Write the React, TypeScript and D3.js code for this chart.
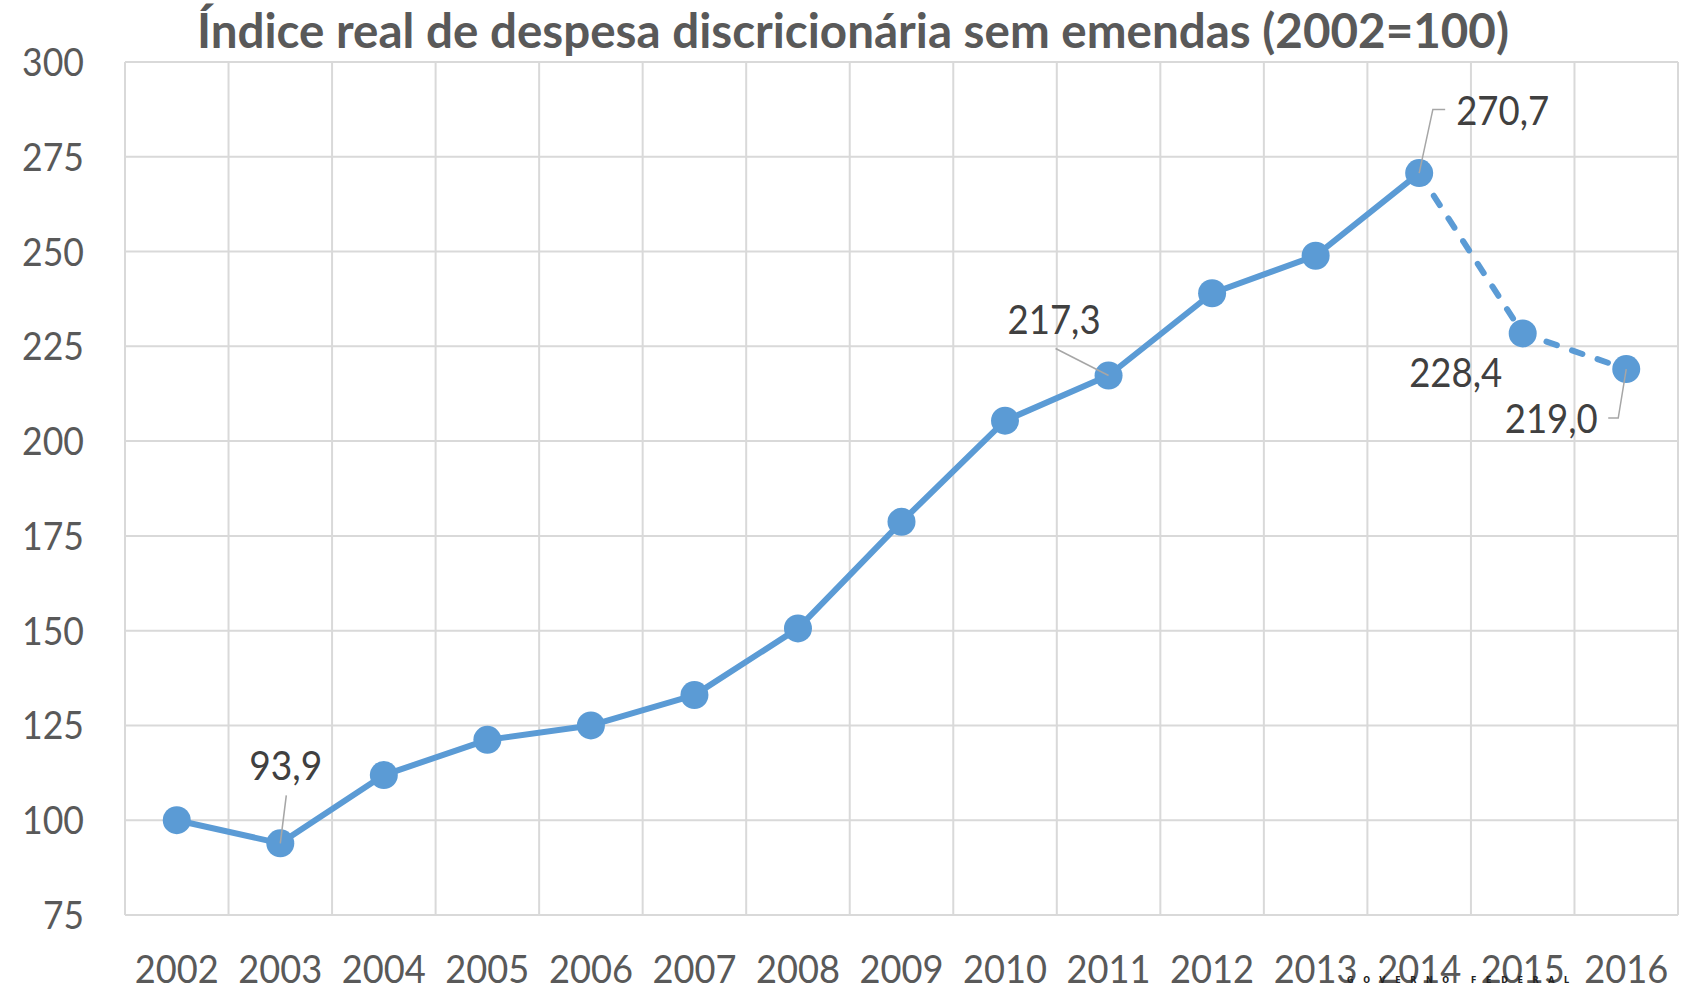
import React from "react";
import * as d3 from "d3";

const years = ["2002","2003","2004","2005","2006","2007","2008","2009","2010","2011","2012","2013","2014","2015","2016"];
const values = [100, 93.9, 111.9, 121.2, 125.0, 133.0, 150.6, 178.7, 205.4, 217.3, 239.0, 248.9, 270.7, 228.4, 219.0];
const yTicks = [75, 100, 125, 150, 175, 200, 225, 250, 275, 300];
const labeledIdx = [1, 9, 12, 13, 14];
const solidUntil = 12; // index where dashed part starts
const title = "Índice real de despesa discricionária sem emendas (2002=100)";

const W = 1688, H = 990;
const M = { left: 125, right: 1678, top: 62, bottom: 915 };

const fmt = (v: number) => d3.format(".1f")(v).replace(".", ",");

// label placements relative to the point (dx, dy baseline) and leader path (relative)
const labelStyle: Record<number, { dx: number; dy: number; anchor: string; leader?: [number, number][] }> = {
  1: { dx: 5.5, dy: -63, anchor: "middle", leader: [[6, -48], [0, 0]] },
  9: { dx: -54.5, dy: -42, anchor: "middle", leader: [[-53, -27], [0, 0]] },
  12: { dx: 83.5, dy: -48, anchor: "middle", leader: [[0, 0], [13.7, -63.7], [26, -63.7]] },
  13: { dx: -67, dy: 54, anchor: "middle" },
  14: { dx: -75, dy: 64, anchor: "middle", leader: [[0, 0], [-8, 49], [-18, 49]] },
};

export default function App() {
  const x = d3.scaleBand<string>().domain(years).range([M.left, M.right]).padding(0);
  const y = d3.scaleLinear().domain([75, 300]).range([M.bottom, M.top]);
  const cx = (i: number) => (x(years[i]) as number) + x.bandwidth() / 2;
  const cy = (i: number) => y(values[i]);

  const pts = values.map((v, i) => [cx(i), y(v)] as [number, number]);
  const gen = d3.line<[number, number]>().x(d => d[0]).y(d => d[1]);
  const solid = gen(pts.slice(0, solidUntil + 1)) || "";
  const dashed = gen(pts.slice(solidUntil)) || "";

  const font = "Lato, 'Open Sans', sans-serif";
  const gridColor = "#D9D9D9";
  const blue = "#5B9BD5";

  return (
    <svg width={W} height={H} style={{ position: "absolute", left: 0, top: 0, background: "#fff" }}>
      <rect x={0} y={0} width={W} height={H} fill="#fff" />
      {/* horizontal gridlines */}
      {yTicks.map(t => (
        <line key={"h" + t} x1={M.left} x2={M.right} y1={y(t)} y2={y(t)} stroke={gridColor} strokeWidth={2} />
      ))}
      {/* vertical gridlines at band edges */}
      {years.map((yr) => (
        <line key={"v" + yr} x1={x(yr) as number} x2={x(yr) as number} y1={M.top} y2={M.bottom} stroke={gridColor} strokeWidth={2} />
      ))}
      <line x1={M.right} x2={M.right} y1={M.top} y2={M.bottom} stroke={gridColor} strokeWidth={2} />

      {/* y labels */}
      {yTicks.map(t => (
        <text key={"yl" + t} x={84} y={y(t) + 14} textAnchor="end" fontFamily={font} fontSize={39} fill="#595959" textLength={t >= 100 ? 62 : 41} lengthAdjust="spacingAndGlyphs">{t}</text>
      ))}
      {/* x labels */}
      {years.map((yr, i) => (
        <text key={"xl" + yr} x={cx(i)} y={983} textAnchor="middle" fontFamily={font} fontSize={39} fill="#595959" textLength={84} lengthAdjust="spacingAndGlyphs">{yr}</text>
      ))}

      {/* title */}
      <text x={853} y={48} textAnchor="middle" fontFamily={font} fontWeight={700} fontSize={47} fill="#595959" textLength={1312} lengthAdjust="spacingAndGlyphs">{title}</text>

      {/* line */}
      <path d={solid} fill="none" stroke={blue} strokeWidth={6} strokeLinejoin="round" />
      <path d={dashed} fill="none" stroke={blue} strokeWidth={6} strokeDasharray="11 16" strokeLinecap="round" />

      {/* markers */}
      {values.map((v, i) => (
        <circle key={"c" + i} cx={cx(i)} cy={y(v)} r={14} fill={blue} />
      ))}
      {/* leaders */}
      {labeledIdx.map(i => {
        const s = labelStyle[i];
        if (!s.leader) return null;
        const d = gen(s.leader.map(p => [cx(i) + p[0], cy(i) + p[1]] as [number, number])) || "";
        return <path key={"ld" + i} d={d} fill="none" stroke="#A6A6A6" strokeWidth={1.5} />;
      })}

      {/* data labels */}
      {labeledIdx.map(i => {
        const s = labelStyle[i];
        return (
          <text key={"dl" + i} x={cx(i) + s.dx} y={cy(i) + s.dy} textAnchor={s.anchor as any} fontFamily={font} fontSize={40} fill="#404040" textLength={fmt(values[i]).length === 5 ? 93 : 73} lengthAdjust="spacingAndGlyphs">{fmt(values[i])}</text>
        );
      })}

      {/* watermark */}
      <text x={1347} y={983} fontFamily="'DejaVu Sans', sans-serif" fontWeight={700} fontSize={8} letterSpacing={9.6} fill="#222">GOVERNO FEDERAL</text>
    </svg>
  );
}
